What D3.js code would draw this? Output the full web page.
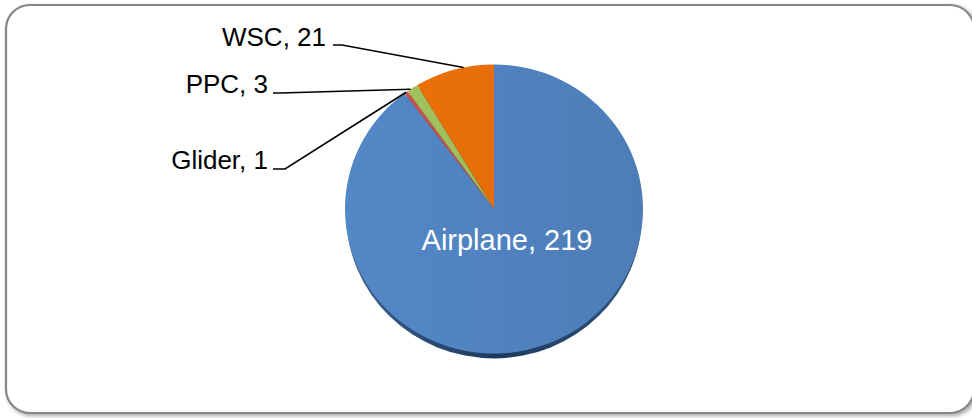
<!DOCTYPE html>
<html>
<head>
<meta charset="utf-8">
<script src="https://cdn.jsdelivr.net/npm/d3@7/dist/d3.min.js"></script>
<style>
  html, body { margin: 0; padding: 0; background: #fff; }
  svg { display: block; }
</style>
</head>
<body>
<svg id="chart" width="972" height="418"></svg>
<script>
const categories = ["Airplane", "Glider", "PPC", "WSC"];
const values = [219, 1, 3, 21];
const colors = ["#4F81BD", "#C0504D", "#9BBB59", "#E36C09"];

const W = 972, H = 418;
const cx = 494, cy = 209, r = 149, sy = 0.97;
const svg = d3.select("#chart");

const defs = svg.append("defs");
const fr = defs.append("filter").attr("id", "fshadow").attr("x", "-5%").attr("y", "-5%").attr("width", "115%").attr("height", "120%");
fr.append("feGaussianBlur").attr("in", "SourceAlpha").attr("stdDeviation", 2);
fr.append("feOffset").attr("dx", 2).attr("dy", 2).attr("result", "ob");
fr.append("feComponentTransfer").append("feFuncA").attr("type", "linear").attr("slope", 0.35);
const fm = fr.append("feMerge");
fm.append("feMergeNode");
fm.append("feMergeNode").attr("in", "SourceGraphic");

// frame
svg.append("rect")
  .attr("x", 6).attr("y", 5).attr("width", 968).attr("height", 408)
  .attr("rx", 24).attr("ry", 24)
  .attr("fill", "#fff").attr("stroke", "#868686").attr("stroke-width", 2.2)
  .attr("filter", "url(#fshadow)");

// gradients per slice, spanning the whole pie
colors.forEach((c, i) => {
  const g = defs.append("linearGradient").attr("id", "g" + i)
    .attr("gradientUnits", "userSpaceOnUse")
    .attr("x1", -r).attr("y1", 0).attr("x2", r).attr("y2", 0);
  g.append("stop").attr("offset", "0%").attr("stop-color", d3.color(c).brighter(0.15));
  g.append("stop").attr("offset", "100%").attr("stop-color", d3.color(c).darker(0.08));
});
const sg = defs.append("linearGradient").attr("id", "sh")
  .attr("x1", "0%").attr("y1", "0%").attr("x2", "100%").attr("y2", "0%");
sg.append("stop").attr("offset", "0%").attr("stop-color", "#3d6291");
sg.append("stop").attr("offset", "50%").attr("stop-color", "#1e3a5e");
sg.append("stop").attr("offset", "100%").attr("stop-color", "#2f5179");

const pie = d3.pie().sort(null).value(d => d)(values);
const arc = d3.arc().innerRadius(0).outerRadius(r);

const g = svg.append("g").attr("transform", `translate(${cx},${cy}) scale(1,${sy})`);
// 3D edge shadow
g.append("ellipse").attr("cx", 0).attr("cy", 5).attr("rx", r - 1).attr("ry", r)
  .attr("fill", "url(#sh)");

g.selectAll("path.slice").data(pie).enter().append("path")
  .attr("class", "slice")
  .attr("d", arc)
  .attr("fill", (d, i) => `url(#g${i})`)
  .attr("stroke", "none");

// big label inside
svg.append("text")
  .attr("x", 507).attr("y", 250)
  .attr("text-anchor", "middle")
  .attr("font-family", "Liberation Sans, Arial, sans-serif")
  .attr("font-size", 29)
  .attr("fill", "#fff")
  .text(`${categories[0]}, ${values[0]}`);

// outside labels with leader lines
const outside = [
  { i: 3, tx: 326, ty: 46, line: [[333, 45], [342, 45]] },
  { i: 2, tx: 268, ty: 93, line: [[273, 93], [280, 93]] },
  { i: 1, tx: 268, ty: 169, line: [[273, 169], [285, 169]] }
];
const edgeAt = (i, frac) => {
  const d = pie[i];
  const a = d.startAngle + (d.endAngle - d.startAngle) * frac;
  return [cx + Math.sin(a) * r, cy - Math.cos(a) * r * sy];
};
const endFrac = { 3: 0.62, 2: 0.3, 1: 0.5 };
outside.forEach(o => {
  const p = edgeAt(o.i, endFrac[o.i]);
  const pts = o.line.concat([p]);
  svg.append("path")
    .attr("d", d3.line()(pts))
    .attr("fill", "none").attr("stroke", "#000").attr("stroke-width", 1.6);
  svg.append("text")
    .attr("x", o.tx).attr("y", o.ty)
    .attr("text-anchor", "end")
    .attr("font-family", "Liberation Sans, Arial, sans-serif")
    .attr("font-size", 26)
    .attr("fill", "#000")
    .text(`${categories[o.i]}, ${values[o.i]}`);
});
</script>
</body>
</html>
